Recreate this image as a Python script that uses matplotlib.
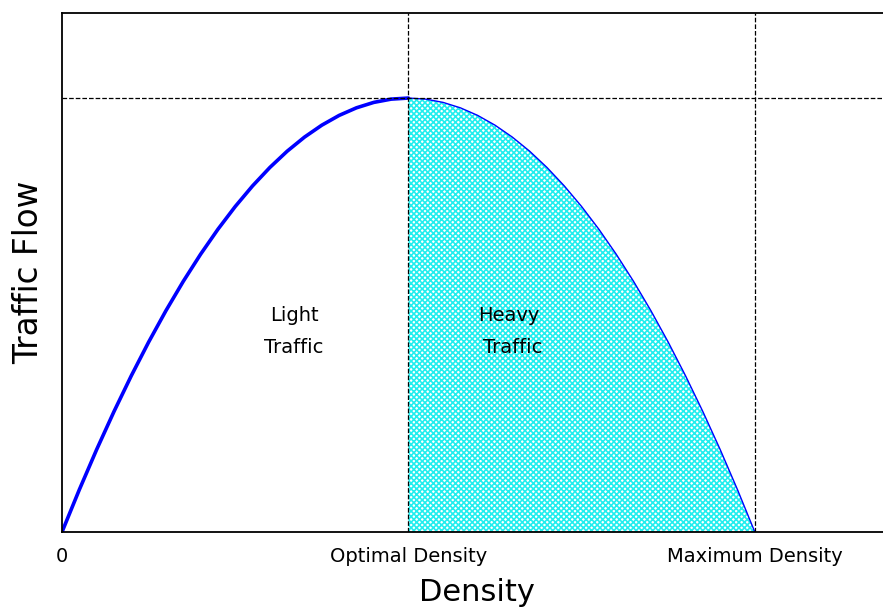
import matplotlib
matplotlib.use('Agg')
import matplotlib.pyplot as plt

# density (in units of optimal density) and traffic flow (peak = 1)
density = [0.0, 0.05, 0.1, 0.15, 0.2, 0.25, 0.3, 0.35, 0.4, 0.45, 0.5,
           0.55, 0.6, 0.65, 0.7, 0.75, 0.8, 0.85, 0.9, 0.95, 1.0,
           1.05, 1.1, 1.15, 1.2, 1.25, 1.3, 1.35, 1.4, 1.45, 1.5,
           1.55, 1.6, 1.65, 1.7, 1.75, 1.8, 1.85, 1.9, 1.95, 2.0]
flow = [0.0, 0.0975, 0.19, 0.2775, 0.36, 0.4375, 0.51, 0.5775, 0.64, 0.6975, 0.75,
        0.7975, 0.84, 0.8775, 0.91, 0.9375, 0.96, 0.9775, 0.99, 0.9975, 1.0,
        0.9975, 0.99, 0.9775, 0.96, 0.9375, 0.91, 0.8775, 0.84, 0.7975, 0.75,
        0.6975, 0.64, 0.5775, 0.51, 0.4375, 0.36, 0.2775, 0.19, 0.0975, 0.0]

optimal = 1.0
maximum = 2.0
peak = 1.0

tick_pos = [0, optimal, maximum]
tick_labels = ['0', 'Optimal Density', 'Maximum Density']

light = [d for d in density if d <= optimal]
heavy = [d for d in density if d >= optimal]
light_flow = flow[:len(light)]
heavy_flow = flow[len(light) - 1:]

fig = plt.figure(figsize=(8.83, 6.10), dpi=100)
ax = fig.add_axes([62 / 883, 78 / 610, 821 / 883, 519 / 610])

plt.rcParams['hatch.linewidth'] = 1.2
ax.fill_between(heavy, heavy_flow, 0, facecolor='white', edgecolor='#22eeee',
                hatch='xxxxxx', linewidth=0)
ax.plot(light, light_flow, color='blue', lw=2.6, solid_capstyle='round')
ax.plot(heavy, heavy_flow, color='blue', lw=1.0)

ax.axvline(optimal, color='k', ls='--', lw=0.9)
ax.axvline(maximum, color='k', ls='--', lw=0.9)
ax.axhline(peak, color='k', ls='--', lw=0.9)

ax.text(0.67, 0.50, 'Light', ha='center', va='center', fontsize=14)
ax.text(0.67, 0.425, 'Traffic', ha='center', va='center', fontsize=14)
ax.text(1.29, 0.50, 'Heavy', ha='center', va='center', fontsize=14)
ax.text(1.30, 0.425, 'Traffic', ha='center', va='center', fontsize=14)

ax.set_xlim(0, 2.37)
ax.set_ylim(0, 1.196)
ax.set_xticks(tick_pos)
ax.set_xticklabels(tick_labels, fontsize=14)
ax.set_yticks([])
ax.tick_params(axis='x', length=0, pad=11)
ax.set_xlabel('Density', fontsize=22)
ax.xaxis.set_label_coords(0.505, -0.088)
ax.set_ylabel('Traffic Flow', fontsize=23.5, labelpad=12)

ax.spines['right'].set_visible(False)
for s in ['top', 'left', 'bottom']:
    ax.spines[s].set_linewidth(1.3)

fig.savefig('out.png', dpi=100)
